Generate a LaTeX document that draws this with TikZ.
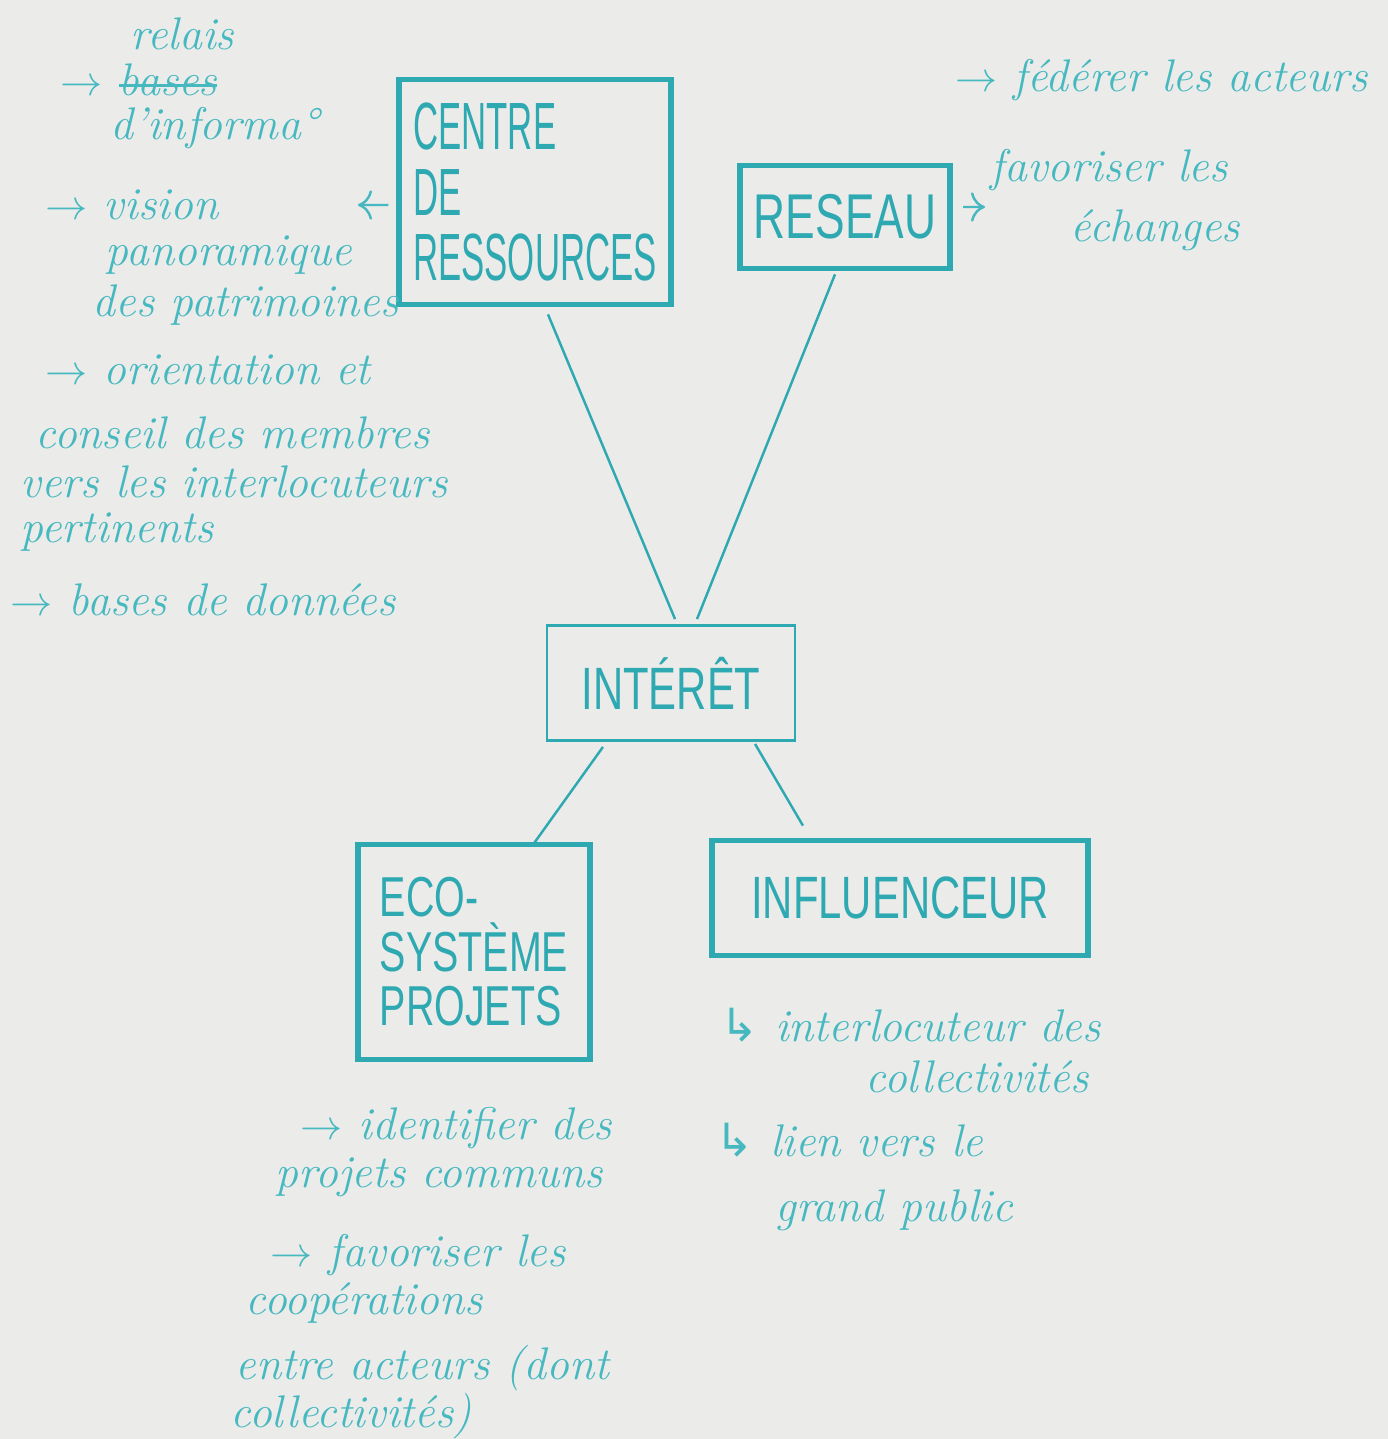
\documentclass[tikz,border=0pt]{standalone}
\usepackage{fontspec}
\usetikzlibrary{positioning,arrows.meta}
\newfontfamily\boxfont[FakeStretch=0.7]{Liberation Sans}
\newfontfamily\narrowfont[FakeStretch=0.52]{Liberation Sans}
\newfontfamily\symfont{DejaVu Sans}
\definecolor{cink}{HTML}{2EA9B2}
\definecolor{cnote}{HTML}{45B8C0}
\definecolor{cboard}{HTML}{EBEBE9}
\newcommand{\hookar}{{\symfont ↳}}
\newcommand{\strikeword}[1]{\setbox0\hbox{#1}\rlap{\rule[0.45ex]{\wd0}{0.7pt}}\box0}

\begin{document}
\begin{tikzpicture}[
      x=0.01cm, y=-0.01cm,
      box/.style={draw=cink,line width=1.6pt,text=cink,inner sep=4pt},
      thinbox/.style={box,line width=0.8pt},
      note/.style={text=cnote,font=\fontsize{13}{15}\selectfont\itshape,anchor=west,inner sep=0pt},
      link/.style={draw=cink,line width=0.7pt},
      ar/.style={-{To[length=4pt]},draw=cnote,line width=0.7pt}]

    \fill[cboard] (0,0) rectangle (1388,1439);
    \useasboundingbox (0,0) rectangle (1388,1439);

    % boxes
    \node[box,minimum width=2.7cm,minimum height=2.25cm,align=left,
          font=\narrowfont\fontsize{19}{18.5}\selectfont] (centre) at (535,192) {CENTRE\\DE\\RESSOURCES};
    \node[box,minimum width=2.0cm,minimum height=1.03cm,
          font=\boxfont\fontsize{18}{20}\selectfont] (reseau) at (845,217) {RESEAU};
    \node[thinbox,minimum width=2.48cm,minimum height=1.15cm,
          font=\boxfont\fontsize{17}{20}\selectfont] (interet) at (671,683) {INTÉRÊT};
    \node[box,minimum width=2.32cm,minimum height=2.15cm,align=left,
          font=\boxfont\fontsize{16}{15.5}\selectfont] (eco) at (474,952) {ECO-\\SYSTÈME\\PROJETS};
    \node[box,minimum width=3.76cm,minimum height=1.15cm,
          font=\boxfont\fontsize{17}{20}\selectfont] (influenceur) at (900,898) {INFLUENCEUR};

    % links
    \draw[link] ([xshift=1.3mm,yshift=-0.7mm]centre.south) -- ([xshift=0.4mm,yshift=0.5mm]interet.north);
    \draw[link] ([xshift=-1mm,yshift=-0.3mm]reseau.south) -- ([xshift=2.6mm,yshift=0.5mm]interet.north);
    \draw[link] ([xshift=-6.8mm,yshift=-0.5mm]interet.south) -- ([xshift=5.9mm,yshift=-0.3mm]eco.north);
    \draw[link] ([xshift=8.4mm,yshift=-0.2mm]interet.south) -- ([xshift=-9.7mm,yshift=1.2mm]influenceur.north);

    % centre de ressources
    \node[note] (relais) at (130,34) {relais};
    \node[note] (bases) at (60,80) {$\rightarrow$ \strikeword{bases}};
    \node[note] (informa) at (110,128) {d'informa°};
    \node[note] (vision) at (45,205) {$\rightarrow$ vision};
    \node[note] (panoramique) at (105,255) {panoramique};
    \node[note] (patrimoines) at (92,305) {des patrimoines};
    \node[note] (orientation) at (45,370) {$\rightarrow$ orientation et};
    \node[note] (conseil) at (35,433) {conseil des membres};
    \node[note] (vers) at (20,482) {vers les interlocuteurs};
    \node[note] (pertinents) at (20,532) {pertinents};
    \node[note] (donnees) at (10,600) {$\rightarrow$ bases de données};
    \coordinate (visiontip) at (358,205);
    \draw[ar] ([xshift=-0.8mm,yshift=-1.3mm]centre.west) -- (visiontip);

    % reseau
    \node[note] (federer) at (955,80) {$\rightarrow$ fédérer les acteurs};
    \node[note] (favoriser) at (990,170) {favoriser les};
    \node[note] (echanges) at (1070,230) {échanges};
    \coordinate (favtip) at (985,207);
    \draw[ar] ([xshift=1mm,yshift=1mm]reseau.east) -- (favtip);

    % influenceur
    \node[note] (interloc) at (720,1025) {\hookar\ interlocuteur des};
    \node[note] (collectiv) at (865,1077) {collectivités};
    \node[note] (lien) at (715,1140) {\hookar\ lien vers le};
    \node[note] (grandpublic) at (775,1210) {grand public};

    % eco-systeme projets
    \node[note] (identifier) at (300,1128) {$\rightarrow$ identifier des};
    \node[note] (communs) at (275,1177) {projets communs};
    \node[note] (favcoop) at (270,1255) {$\rightarrow$ favoriser les};
    \node[note] (cooperations) at (245,1303) {coopérations};
    \node[note] (entre) at (235,1368) {entre acteurs (dont};
    \node[note] (collect) at (230,1416) {collectivités)};
  \end{tikzpicture}
\end{document}
